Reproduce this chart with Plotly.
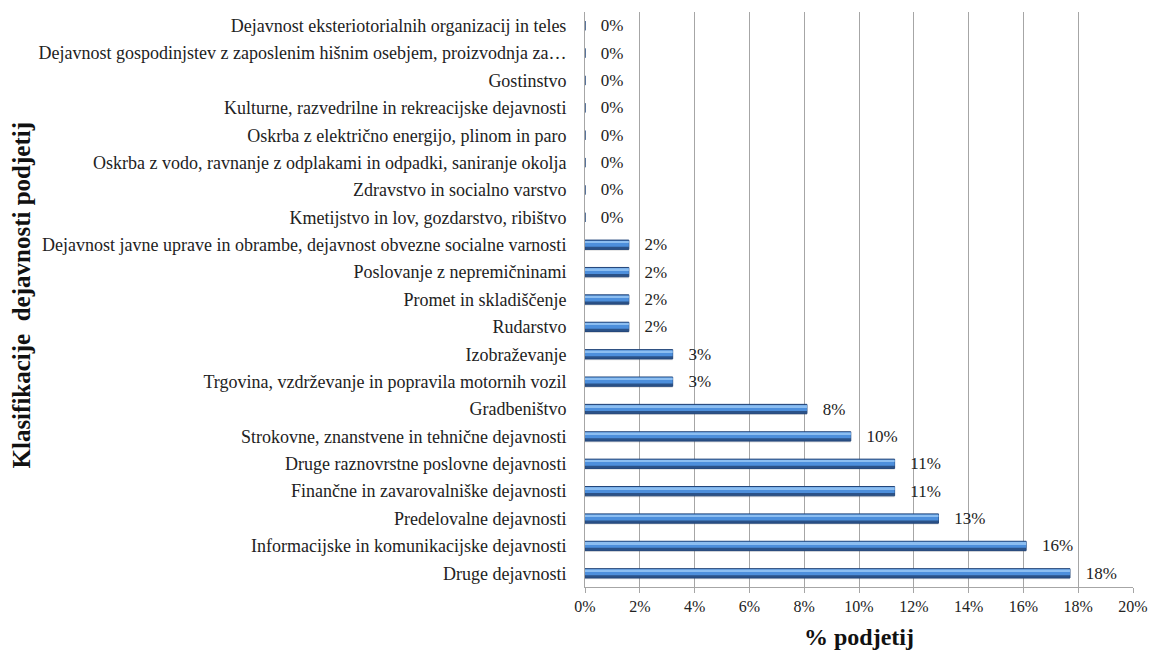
import plotly.graph_objects as go

# Industry classification of companies, listed bottom-to-top as drawn
categories = [
    "Druge dejavnosti",
    "Informacijske in komunikacijske dejavnosti",
    "Predelovalne dejavnosti",
    "Finančne in zavarovalniške dejavnosti",
    "Druge raznovrstne poslovne dejavnosti",
    "Strokovne, znanstvene in tehnične dejavnosti",
    "Gradbeništvo",
    "Trgovina, vzdrževanje in popravila motornih vozil",
    "Izobraževanje",
    "Rudarstvo",
    "Promet in skladiščenje",
    "Poslovanje z nepremičninami",
    "Dejavnost javne uprave in obrambe, dejavnost obvezne socialne varnosti",
    "Kmetijstvo in lov, gozdarstvo, ribištvo",
    "Zdravstvo in socialno varstvo",
    "Oskrba z vodo, ravnanje z odplakami in odpadki, saniranje okolja",
    "Oskrba z električno energijo, plinom in paro",
    "Kulturne, razvedrilne in rekreacijske dejavnosti",
    "Gostinstvo",
    "Dejavnost gospodinjstev z zaposlenim hišnim osebjem, proizvodnja za…",
    "Dejavnost eksteriotorialnih organizacij in teles",
]
# share of companies in percent
share_pct = [17.7, 16.1, 12.9, 11.3, 11.3, 9.7, 8.1, 3.2, 3.2, 1.6, 1.6, 1.6, 1.6,
             0, 0, 0, 0, 0, 0, 0, 0]

x_ticks = [0, 2, 4, 6, 8, 10, 12, 14, 16, 18, 20]
x_ticktext = [f"{v}%" for v in x_ticks]
x_title = "% podjetij"
y_title = "Klasifikacije  dejavnosti podjetij"

SERIF = "Liberation Serif"

fig = go.Figure()

# soft shadow under each bar
fig.add_trace(go.Bar(
    y=categories, x=share_pct, orientation="h",
    width=0.10, offset=-0.22,
    marker=dict(color="rgba(110,110,110,0.22)", line=dict(width=0)),
    hoverinfo="skip", showlegend=False,
))
# dark body of the bar, carries the value labels
fig.add_trace(go.Bar(
    y=categories, x=share_pct, orientation="h",
    width=0.34, offset=-0.17,
    marker=dict(color="#2b5288", line=dict(color="#23467a", width=1)),
    texttemplate="   %{x:.0f}%", textposition="outside",
    constraintext="none",
    textfont=dict(family=SERIF, size=17, color="#222222"),
    cliponaxis=False, showlegend=False,
))
# bright blue face
fig.add_trace(go.Bar(
    y=categories, x=share_pct, orientation="h",
    width=0.22, offset=-0.07,
    marker=dict(color="#4d8fdc", line=dict(width=0)),
    hoverinfo="skip", showlegend=False,
))
# light highlight along the top edge
fig.add_trace(go.Bar(
    y=categories, x=share_pct, orientation="h",
    width=0.07, offset=0.07,
    marker=dict(color="#8cbef1", line=dict(width=0)),
    hoverinfo="skip", showlegend=False,
))

fig.update_layout(
    width=1150, height=653,
    margin=dict(l=585, r=17, t=12, b=66, autoexpand=False),
    paper_bgcolor="white", plot_bgcolor="white",
    barmode="overlay",
    font=dict(family=SERIF, size=16, color="#222222"),
    xaxis=dict(
        range=[0, 20], tickmode="array", tickvals=x_ticks, ticktext=x_ticktext,
        showgrid=True, gridcolor="#a6a6a6", gridwidth=1,
        showline=True, linecolor="#a6a6a6", linewidth=1,
        ticks="outside", ticklen=5, tickcolor="#a6a6a6",
        tickfont=dict(family=SERIF, size=16, color="#222222"),
        zeroline=False, fixedrange=True, automargin=False,
    ),
    yaxis=dict(
        type="category", categoryorder="array", categoryarray=categories,
        showline=True, linecolor="#a6a6a6", linewidth=1,
        ticks="", ticklabelstandoff=14,
        tickfont=dict(family=SERIF, size=18, color="#222222"),
        showgrid=False, fixedrange=True, automargin=False,
    ),
    annotations=[
        dict(text=x_title, xref="paper", yref="paper", x=0.5, y=0,
             yshift=-50, showarrow=False, yanchor="middle",
             font=dict(family=SERIF, size=24, color="#111111", weight="bold")),
        dict(text=y_title, xref="paper", yref="paper", x=0, xshift=-564,
             y=0.5, yshift=4, textangle=-90, showarrow=False,
             xanchor="center", yanchor="middle",
             font=dict(family=SERIF, size=25, color="#111111", weight="bold")),
    ],
)

fig.write_html("out.html")
